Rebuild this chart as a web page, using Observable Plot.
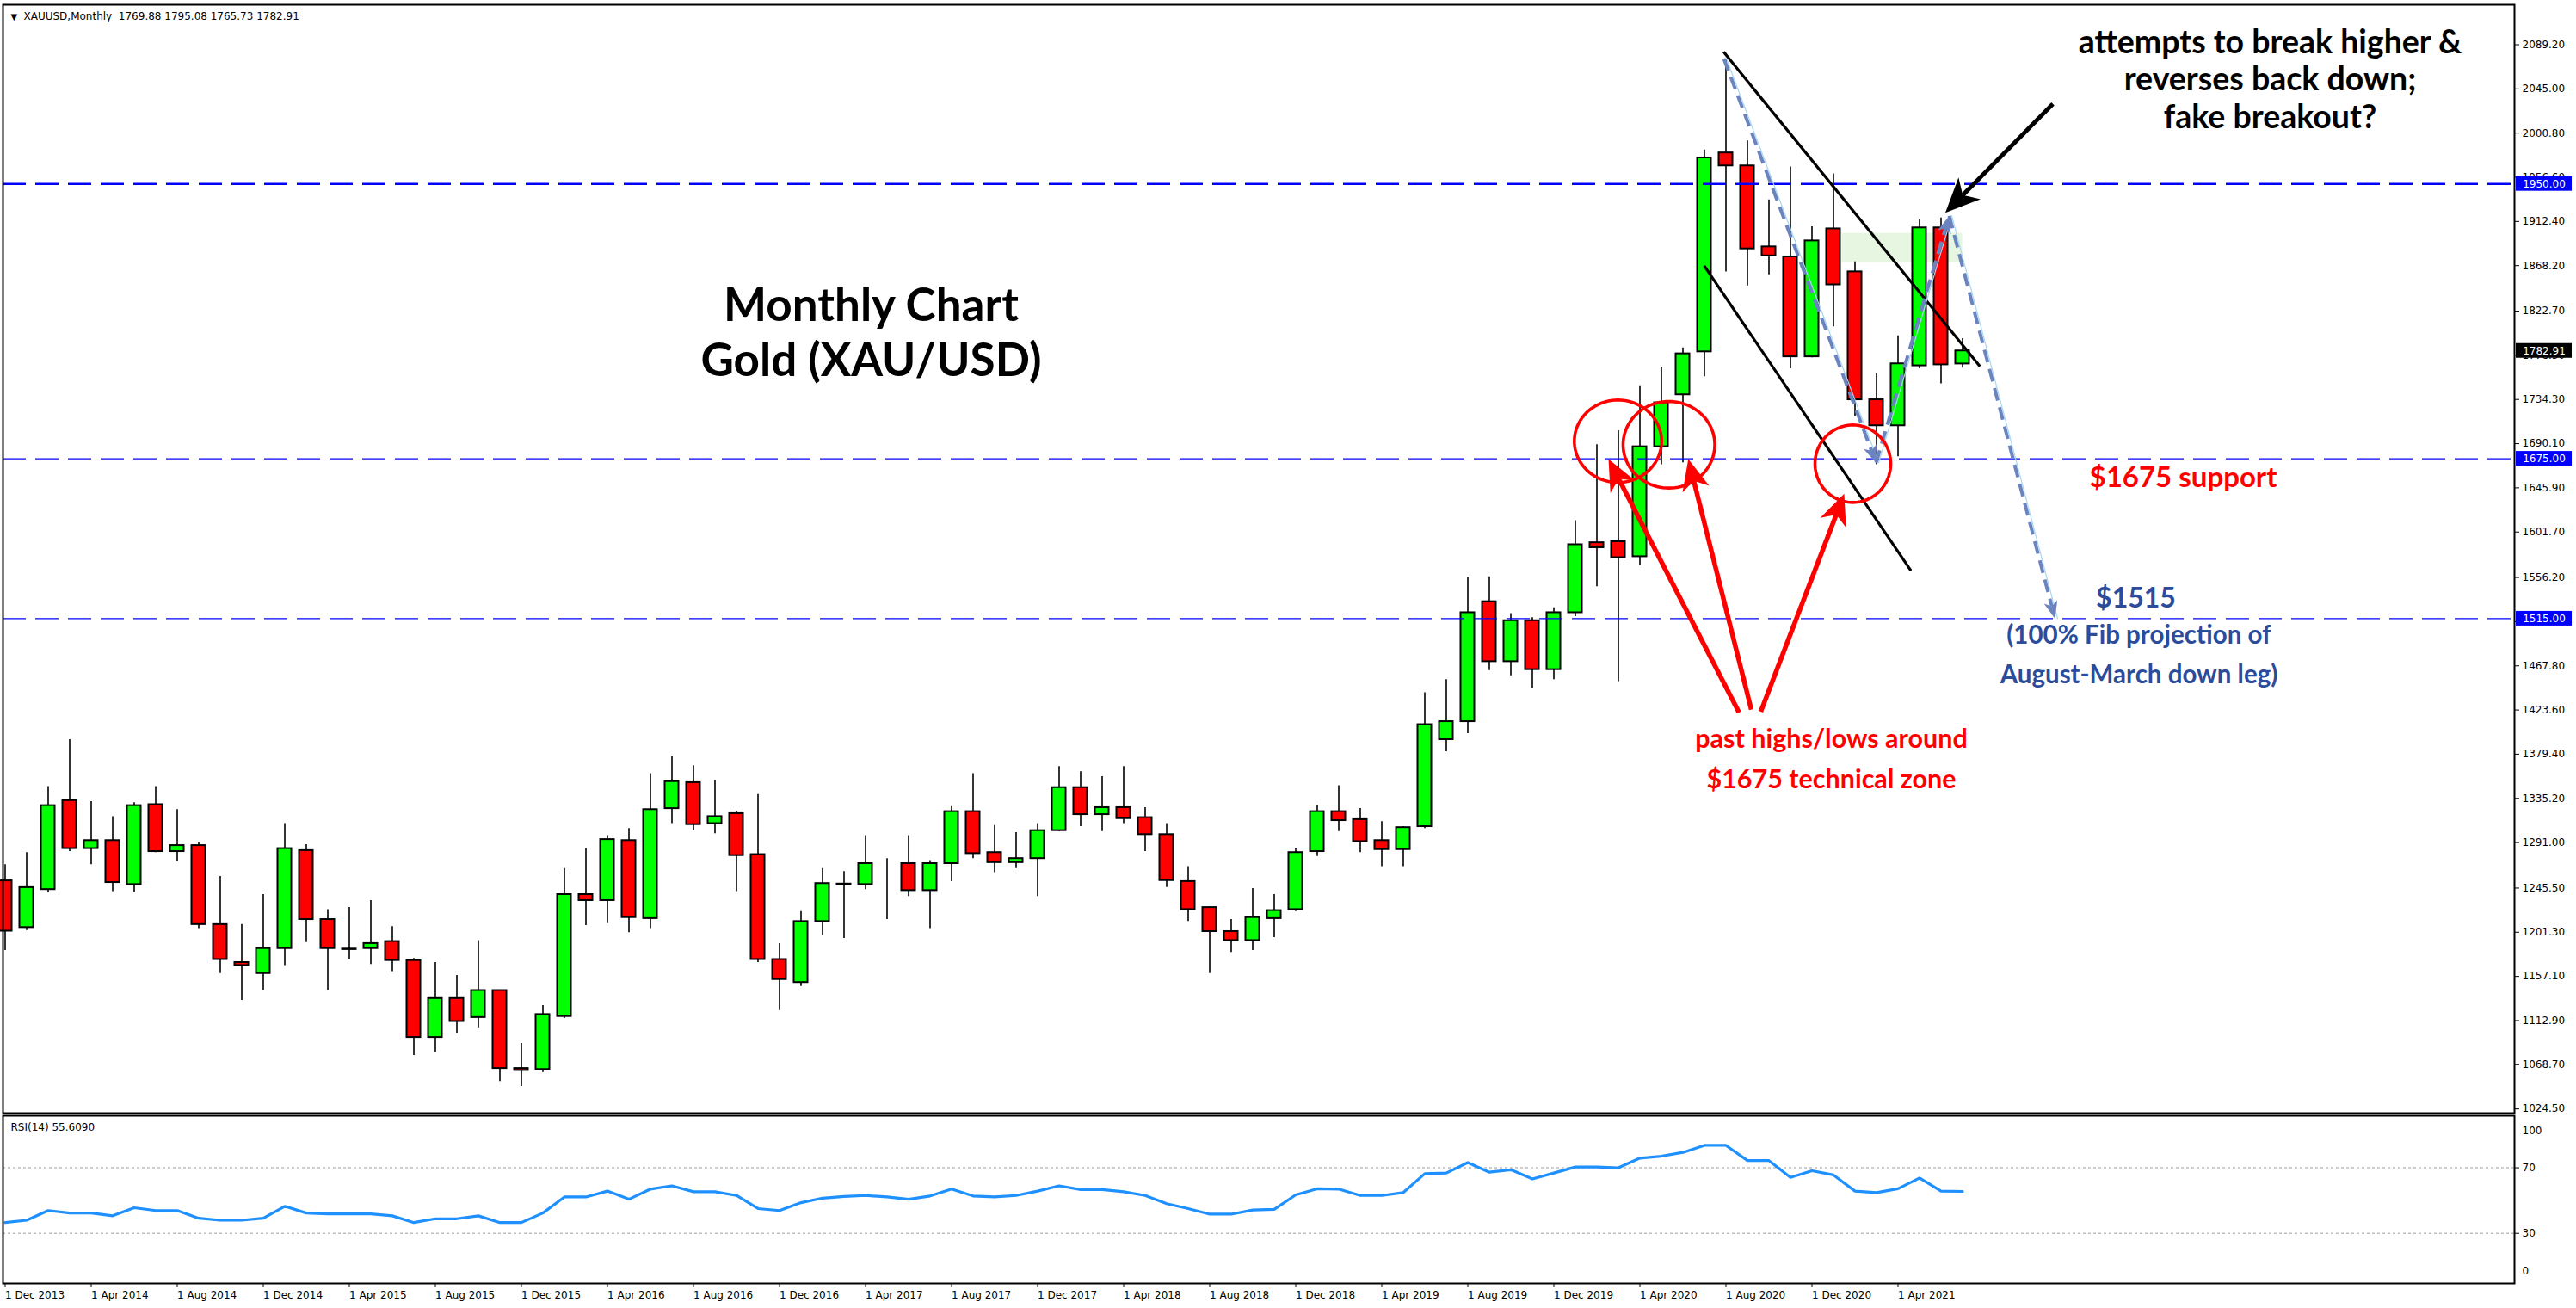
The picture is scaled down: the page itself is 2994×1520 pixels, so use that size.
<!DOCTYPE html>
<html><head><meta charset="utf-8">
<script src="https://cdn.jsdelivr.net/npm/d3@7"></script>
<script src="https://cdn.jsdelivr.net/npm/@observablehq/plot@0.6"></script>
<style>
html,body{margin:0;padding:0;background:#fff;}
#chart{position:relative;width:2994px;height:1520px;overflow:hidden;background:#fff;}
#chart svg{display:block;position:absolute;left:0;}
</style></head>
<body><div id="chart"></div>
<script>
// ---------------- DATA ----------------
const xTickLabels = ["1 Dec 2013","1 Apr 2014","1 Aug 2014","1 Dec 2014","1 Apr 2015","1 Aug 2015","1 Dec 2015","1 Apr 2016","1 Aug 2016","1 Dec 2016","1 Apr 2017","1 Aug 2017","1 Dec 2017","1 Apr 2018","1 Aug 2018","1 Dec 2018","1 Apr 2019","1 Aug 2019","1 Dec 2019","1 Apr 2020","1 Aug 2020","1 Dec 2020","1 Apr 2021"];
const priceTicks = [2089.2,2045,2000.8,1956.6,1912.4,1868.2,1822.7,1778.5,1734.3,1690.1,1645.9,1601.7,1556.2,1512,1467.8,1423.6,1379.4,1335.2,1291,1245.5,1201.3,1157.1,1112.9,1068.7,1024.5];
const rsiTicks = [30, 70];

const opens = [1252.7,1206,1244,1333,1285,1293,1249,1329,1282,1288,1209,1171,1160,1185,1283,1214,1184.5,1185,1192,1173,1096,1135,1116,1143,1065,1064,1117,1239,1233,1293,1215,1325,1351,1310,1320,1279,1174,1151,1212,1249.5,1249,1270,1270,1243,1270,1322,1281,1271,1275,1303,1346,1319,1326,1316,1299,1252,1226,1202,1193,1215,1224,1282,1322,1314,1293,1284,1307,1394,1412,1532,1472,1513,1464,1521,1591,1592,1577,1687,1739,1782,1981,1968,1887,1877,1777,1905,1862,1734,1708,1768,1906,1769.88];
const highs = [1269,1281,1347,1394,1332,1317,1331,1347,1324,1291,1257,1209,1239,1310,1289,1224,1226,1233,1207,1175,1171,1158,1193,1143,1090,1128,1265,1285,1298,1305,1360,1377,1368,1353,1322,1339,1190,1222,1265,1262,1298,1275,1298,1273,1327,1360,1308,1301,1310,1367,1362,1357,1367,1326,1310,1267,1227,1214,1245,1239,1285,1328,1348,1325,1312,1307,1441,1454,1556,1557,1520,1516,1526,1613,1689,1703,1748,1766,1786,1984,2075,1993,1934,1967,1907,1960,1872,1760,1798,1914,1916,1795.08];
const lows = [1183,1203,1241,1282,1269,1242,1241,1281,1272,1205,1160,1133,1143,1168,1191,1143,1174,1169,1162,1078,1081,1100,1105,1052,1047,1061,1115,1208,1210,1201,1205,1310,1303,1300,1242,1171,1123,1147,1198,1195,1244,1214,1237,1205,1252,1275,1261,1265,1237,1302,1307,1302,1310,1282,1246,1212,1160,1181,1183,1196,1222,1277,1302,1281,1267,1267,1305,1382,1400,1463,1458,1445,1454,1517,1547,1452,1568,1669,1671,1757,1862,1848,1859,1765,1776,1807,1717,1669,1677,1765,1750,1765.73];
const closes = [1202.4,1246,1328,1285,1293,1251,1328,1282,1288,1209,1174,1168,1185,1285,1214,1185,1184,1190,1173,1096,1135,1112,1143,1065,1063,1119,1239,1233,1294,1216,1324,1352,1309,1317,1278,1174,1154,1212,1250,1249,1270,1270,1243,1270,1322,1280,1271,1275,1303,1346,1319,1326,1315,1299,1253,1224,1202,1193,1216,1223,1281,1322,1313,1292,1284,1306,1409,1412,1521,1472,1513,1464,1521,1589,1586,1576,1687,1731,1780,1976,1968,1885,1878,1777,1893,1849,1734,1708,1770,1906,1769,1782.91];
const rsiValues = [36.6,38,43.9,42.4,42.4,40.7,45.6,43.9,43.9,39.2,38,38,39.2,46.5,42.4,41.9,41.9,41.9,40.7,36.6,38.9,38.9,40.7,36.6,36.6,42.4,52.2,52.2,55.8,50.8,57,59,55.4,55.4,53.1,45.1,43.9,48.7,51.5,52.5,53.1,52.2,50.8,52.8,57,52.8,52.2,53.1,55.8,59,56.7,56.7,55.4,53.1,48.1,45.1,41.7,41.7,44.2,44.6,53.5,57.2,57,53.1,53.1,54.9,66.4,66.8,73.2,67.3,68.8,63.2,66.8,70.5,70.5,70,75.9,77.1,79.4,83.7,83.7,74.4,74.4,64.1,68.2,65.6,55.8,54.9,57.2,63.8,55.8,55.6];
const levelPrices = [1950, 1675, 1515];
const headerText = "XAUUSD,Monthly  1769.88 1795.08 1765.73 1782.91";
const rsiLabel = "RSI(14) 55.6090";

// ---------------- LAYOUT / SCALES ----------------
const W = 2994, mainH = 1294, rsiH = 226;
const mL = 3, mR = 72;
const xDomain = [-0.1, 116.66];
const yDomain = [1020.32, 2129.23];
const xS = d3.scaleLinear(xDomain, [mL, W - mR]);
const yS = d3.scaleLinear(yDomain, [mainH - 1, 5]);

const bars = opens.map((o, i) => ({i, open: o, high: highs[i], low: lows[i], close: closes[i]}));
const UP = "#00FF00", DOWN = "#FF0000";
const bodyColor = d => d.close > d.open ? UP : d.close < d.open ? DOWN : "#000";

// ---------------- ANNOTATIONS (data units: bar index, price) ----------------
const zone = [{x1: 85.4, x2: 91.0, y1: 1871.5, y2: 1900.5}];
const channel = [
  {x1: 79.89, y1: 2082.0, x2: 91.81, y2: 1767.4},
  {x1: 78.99, y1: 1868.0, x2: 88.6, y2: 1563.0}
];
const fibPts = [{i: 79.9, p: 2075.4}, {i: 86.98, p: 1671}, {i: 90.38, p: 1918}, {i: 95.3, p: 1515}];
const circles = [
  {id: "c1", i: 74.98, p: 1692.5, rx: 50.7, ry: 47.9},
  {id: "c2", i: 77.35, p: 1689.0, rx: 53.3, ry: 50.3},
  {id: "c3", i: 85.9, p: 1670.0, rx: 44, ry: 45}
];
const redArrows = [
  {id: "r1", from: {i: 80.61, p: 1421}, to: {i: 74.54, p: 1674.6}},
  {id: "r2", from: {i: 81.18, p: 1424}, to: {i: 78.25, p: 1674.6}},
  {id: "r3", from: {i: 81.62, p: 1422}, to: {i: 85.5, p: 1640.0}}
];
const blackArrows = [{id: "b1", from: {i: 95.2, p: 2030}, to: {i: 90.2, p: 1921.1}}];

function ellipsePts(c) {
  const cx = xS(c.i), cy = yS(c.p);
  return d3.range(97).map(k => {
    const t = k / 96 * 2 * Math.PI;
    return {id: c.id, i: xS.invert(cx + c.rx * Math.cos(t)), p: yS.invert(cy + c.ry * Math.sin(t))};
  });
}
function arrowGeom(a, len, halfW, notch) {
  const x0 = xS(a.from.i), y0 = yS(a.from.p), x1 = xS(a.to.i), y1 = yS(a.to.p);
  const dx = x1 - x0, dy = y1 - y0, L = Math.hypot(dx, dy), ux = dx / L, uy = dy / L, nx = -uy, ny = ux;
  const pts = [[x1, y1], [x1 - ux*len + nx*halfW, y1 - uy*len + ny*halfW], [x1 - ux*len*notch, y1 - uy*len*notch], [x1 - ux*len - nx*halfW, y1 - uy*len - ny*halfW]];
  const head = pts.map(([x, y]) => ({id: a.id, i: xS.invert(x), p: yS.invert(y)}));
  const shaft = {x1: a.from.i, y1: a.from.p, x2: xS.invert(x1 - ux*len*notch), y2: yS.invert(y1 - uy*len*notch)};
  return {head, shaft};
}
const redG = redArrows.map(a => arrowGeom(a, 36, 16, 0.72));
const blackG = blackArrows.map(a => arrowGeom(a, 40, 18, 0.72));
const fibSegs = [[fibPts[0], fibPts[1]], [fibPts[1], fibPts[2]], [fibPts[2], fibPts[3]]].map((s, k) => arrowGeom({id: "f" + k, from: s[0], to: s[1]}, 20, 8, 0.75));

const boxes = [
  ...levelPrices.map(p => ({price: p, text: d3.format(".2f")(p), fill: "#0000FF"})),
  {price: closes[closes.length - 1], text: d3.format(".2f")(closes[closes.length - 1]), fill: "#000000"}
];
const boxHalf = 8.5 / ((yS.range()[0] - yS.range()[1]) / (yDomain[1] - yDomain[0]));

const texts = [
  {i: 40.26, p: 1802.9, text: "Monthly Chart\nGold (XAU/USD)", size: 53, color: "#000", lh: 1.2},
  {i: 105.3, p: 2055.3, text: "attempts to break higher &\nreverses back down;\nfake breakout?", size: 37.5, color: "#000", lh: 1.16},
  {i: 84.9, p: 1378.5, text: "past highs/lows around\n$1675 technical zone", size: 30.5, color: "#FF0000", lh: 1.55},
  {i: 101.26, p: 1657.4, text: "$1675 support", size: 33, color: "#FF0000", lh: 1.2},
  {i: 99.06, p: 1537, text: "$1515", size: 32, color: "#2B4C9B", lh: 1.2},
  {i: 99.2, p: 1482.6, text: "(100% Fib projection of\nAugust-March down leg)", size: 29.5, color: "#2B4C9B", lh: 1.56}
];

// ---------------- MAIN PLOT ----------------
const fontAxis = "DejaVu Sans";
const main = Plot.plot({
  width: W, height: mainH,
  marginLeft: mL, marginRight: mR, marginTop: 5, marginBottom: 1,
  x: {domain: xDomain, axis: null},
  y: {domain: yDomain, axis: null},
  style: {fontFamily: fontAxis, fontSize: "12px", background: "transparent", overflow: "visible"},
  marks: [
    Plot.rect(zone, {x1: "x1", x2: "x2", y1: "y1", y2: "y2", fill: "#E6F6E0"}),
    Plot.ruleX(bars, {x: "i", y1: "low", y2: "high", stroke: "#000", strokeWidth: 1.6}),
    Plot.rect(bars, {x1: d => d.i - 0.32, x2: d => d.i + 0.32, y1: "open", y2: "close", fill: bodyColor, stroke: "#000", strokeWidth: 2}),
    Plot.ruleY([levelPrices[0]], {y: d => d, stroke: "#0000FF", strokeWidth: 2.6, strokeDasharray: "27,11"}),
    Plot.ruleY(levelPrices.slice(1), {y: d => d, stroke: "#0000FF", strokeWidth: 1.3, strokeDasharray: "27,11"}),
    Plot.link(channel, {x1: "x1", y1: "y1", x2: "x2", y2: "y2", stroke: "#000", strokeWidth: 3.2}),
    Plot.line(fibPts, {x: "i", y: "p", stroke: "#A6D8F2", strokeWidth: 1.2, dx: 3}),
    Plot.link(fibSegs.map(g => g.shaft), {x1: "x1", y1: "y1", x2: "x2", y2: "y2", stroke: "#6B84C0", strokeWidth: 4, strokeDasharray: "15,8"}),
    Plot.line(fibSegs.flatMap(g => g.head), {x: "i", y: "p", z: "id", fill: "#6B84C0", stroke: "none"}),
    Plot.line(circles.flatMap(ellipsePts), {x: "i", y: "p", z: "id", stroke: "#FF0000", strokeWidth: 3.6}),
    Plot.link(redG.map(g => g.shaft), {x1: "x1", y1: "y1", x2: "x2", y2: "y2", stroke: "#FF0000", strokeWidth: 5.5}),
    Plot.line(redG.flatMap(g => g.head), {x: "i", y: "p", z: "id", fill: "#FF0000", stroke: "none"}),
    Plot.link(blackG.map(g => g.shaft), {x1: "x1", y1: "y1", x2: "x2", y2: "y2", stroke: "#000", strokeWidth: 5}),
    Plot.line(blackG.flatMap(g => g.head), {x: "i", y: "p", z: "id", fill: "#000", stroke: "none"}),
    ...texts.map(t => Plot.text([t], {x: "i", y: "p", text: "text", fontSize: t.size, fontWeight: "bold", fontFamily: "Lato", fill: t.color, lineHeight: t.lh, textAnchor: "middle", lineAnchor: "middle"})),
    Plot.axisY(priceTicks, {anchor: "right", tickSize: 5, tickPadding: 4, tickFormat: d3.format(".2f"), fontSize: 12, label: null, stroke: "#000", fill: "#000"}),
    Plot.rect(boxes, {x1: () => xS.invert(2924), x2: () => xS.invert(2989), y1: d => d.price - boxHalf, y2: d => d.price + boxHalf, fill: "fill"}),
    Plot.text(boxes, {x: () => xS.invert(2956.5), y: "price", text: "text", fill: "#fff", fontSize: 12, textAnchor: "middle"}),
    Plot.frame({stroke: "#000", strokeWidth: 2}),
    Plot.text(["\u25BC"], {frameAnchor: "top-left", dx: 9, dy: 10, fontSize: 10, textAnchor: "start", lineAnchor: "top", fill: "#000"}),
    Plot.text([headerText], {frameAnchor: "top-left", dx: 24, dy: 9, fontSize: 12, textAnchor: "start", lineAnchor: "top", fill: "#000"})
  ]
});
main.style.top = "0px";

// ---------------- RSI PLOT ----------------
const rsiData = rsiValues.map((v, i) => ({i, v}));
const rsiPlot = Plot.plot({
  width: W, height: rsiH,
  marginLeft: mL, marginRight: mR, marginTop: 2, marginBottom: 29,
  x: {domain: xDomain, axis: null},
  y: {domain: [-0.6, 101.8], axis: null},
  style: {fontFamily: fontAxis, fontSize: "12px", background: "transparent", overflow: "visible"},
  marks: [
    Plot.ruleY(rsiTicks, {stroke: "#BDBDBD", strokeWidth: 1.5, strokeDasharray: "3,3"}),
    Plot.line(rsiData, {x: "i", y: "v", stroke: "#1E90FF", strokeWidth: 3.2}),
    Plot.axisY(rsiTicks, {anchor: "right", tickSize: 5, tickPadding: 4, fontSize: 12, label: null}),
    Plot.text(["100"], {frameAnchor: "top-right", dx: 9, dy: 13, fontSize: 12, textAnchor: "start"}),
    Plot.text(["0"], {frameAnchor: "bottom-right", dx: 9, dy: -11, fontSize: 12, textAnchor: "start"}),
    Plot.axisX(d3.range(0, xTickLabels.length * 4, 4), {anchor: "bottom", tickSize: 5, tickPadding: 4, tickFormat: i => xTickLabels[i / 4], textAnchor: "start", fontSize: 12, label: null}),
    Plot.text([rsiLabel], {frameAnchor: "top-left", dx: 9, dy: 9, fontSize: 12, textAnchor: "start", lineAnchor: "top"}),
    Plot.frame({stroke: "#000", strokeWidth: 2})
  ]
});
rsiPlot.style.top = mainH + "px";

const host = document.getElementById("chart");
host.appendChild(main);
host.appendChild(rsiPlot);
</script>
</body></html>
